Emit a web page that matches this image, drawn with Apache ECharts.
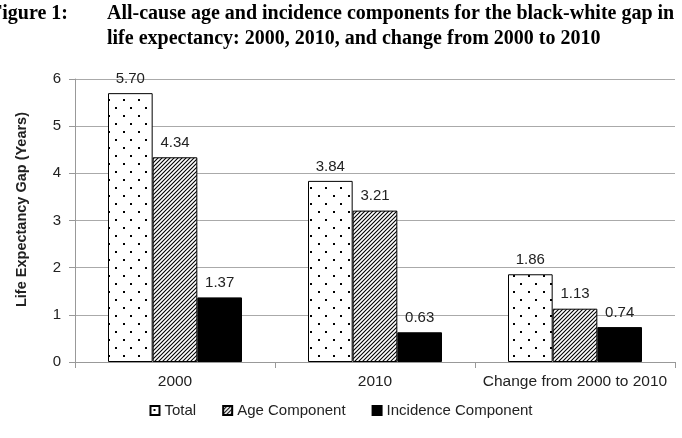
<!DOCTYPE html>
<html><head><meta charset="utf-8">
<script src="https://cdn.jsdelivr.net/npm/echarts@6/dist/echarts.min.js"></script>
<style>html,body{margin:0;padding:0;background:#fff;}#c{width:682px;height:438px;}</style>
</head><body><div id="c"></div>
<script>
const categories = ['2000', '2010', 'Change from 2000 to 2010'];
const seriesNames = ['Total', 'Age Component', 'Incidence Component'];
const totalValues = [5.70, 3.84, 1.86];
const ageValues = [4.34, 3.21, 1.13];
const incidenceValues = [1.37, 0.63, 0.74];
const yTicks = [0, 1, 2, 3, 4, 5, 6];

function dotPattern() {
  const c = document.createElement('canvas');
  c.width = 15; c.height = 16;
  const g = c.getContext('2d');
  g.fillStyle = '#fff'; g.fillRect(0, 0, 15, 16);
  g.fillStyle = '#000';
  g.fillRect(3, 3, 2, 2);
  g.fillRect(10, 11, 2, 2);
  return c;
}
function hatchPattern() {
  const c = document.createElement('canvas');
  c.width = 4; c.height = 4;
  const g = c.getContext('2d');
  g.fillStyle = '#fff'; g.fillRect(0, 0, 4, 4);
  g.strokeStyle = '#000'; g.lineWidth = 1.1;
  g.beginPath();
  g.moveTo(-1, 5); g.lineTo(5, -1);
  g.moveTo(-3, 3); g.lineTo(3, -3);
  g.moveTo(1, 7); g.lineTo(7, 1);
  g.stroke();
  return c;
}

const chart = echarts.init(document.getElementById('c'));
const labelCfg = { show: true, position: 'top', distance: 7, color: '#222', fontSize: 15, fontFamily: 'Liberation Sans, Arial', formatter: p => p.value.toFixed(2) };
const mk = (name, data, color) => ({
  name, type: 'bar', data, barGap: '0%', barCategoryGap: '33%',
  itemStyle: { color, borderColor: '#000', borderWidth: 1 },
  label: labelCfg
});
chart.setOption({
  animation: false,
  textStyle: { fontFamily: 'Liberation Sans, Arial' },
  graphic: [
    { type: 'text', left: -10, top: 4, style: { text: 'Figure 1:', font: 'bold 20px "Liberation Serif"', fill: '#000' } },
    { type: 'text', left: 107, top: 4, style: { text: 'All-cause age and incidence components for the black-white gap in', font: 'bold 20px "Liberation Serif"', fill: '#000' } },
    { type: 'text', left: 107, top: 29, style: { text: 'life expectancy: 2000, 2010, and change from 2000 to 2010', font: 'bold 20px "Liberation Serif"', fill: '#000' } }
  ],
  grid: { left: 75, right: 7, top: 79, bottom: 76 },
  legend: {
    bottom: 15, left: 'center', itemWidth: 9, itemHeight: 9, itemGap: 26,
    textStyle: { fontSize: 15, color: '#222', fontFamily: 'Liberation Sans, Arial' },
    data: seriesNames.map(n => ({ name: n, icon: 'rect' }))
  },
  xAxis: {
    type: 'category', data: categories,
    axisLine: { lineStyle: { color: '#999' } },
    axisTick: { show: true, length: 6, lineStyle: { color: '#999' } },
    axisLabel: { color: '#222', fontSize: 15.5, margin: 12, interval: 0 }
  },
  yAxis: {
    type: 'value', min: 0, max: 6, interval: 1,
    name: 'Life Expectancy Gap (Years)', nameLocation: 'middle', nameGap: 46,
    nameTextStyle: { fontWeight: 'bold', fontSize: 14.5, color: '#222', padding: [0, 0, 0, 22] },
    axisLine: { show: true, lineStyle: { color: '#999' } },
    axisTick: { show: true, length: 6, lineStyle: { color: '#999' } },
    axisLabel: { color: '#222', fontSize: 15, margin: 14, formatter: v => yTicks.includes(v) ? String(v) : '' },
    splitLine: { lineStyle: { color: '#aaa' } }
  },
  series: [
    mk(seriesNames[0], totalValues, { image: dotPattern(), repeat: 'repeat' }),
    mk(seriesNames[1], ageValues, { image: hatchPattern(), repeat: 'repeat' }),
    mk(seriesNames[2], incidenceValues, '#000')
  ]
});
</script></body></html>
